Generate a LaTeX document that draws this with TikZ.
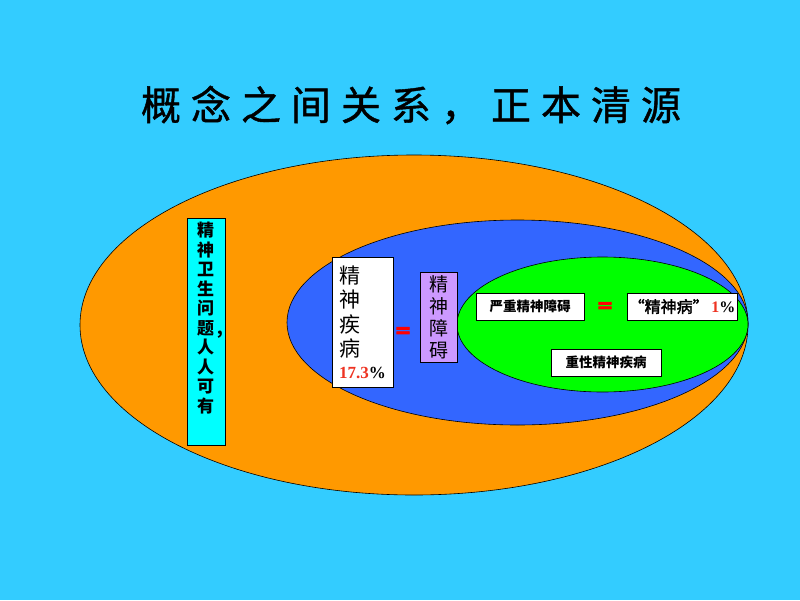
\documentclass[tikz,border=0pt]{standalone}
\usepackage{fontspec}
\setmainfont{Liberation Serif}
\newfontfamily\cjk{Noto Sans CJK SC}
\newfontfamily\cjkm[FakeBold=2.2]{Noto Sans CJK SC}
\newfontfamily\cjkt[LetterSpace=25,FakeBold=1]{Noto Sans CJK SC}
\newfontfamily\tnr{Liberation Serif}
\newfontfamily\eqfont[FakeBold=3]{DejaVu Sans}
\definecolor{bgblue}{HTML}{33CCFF}
\definecolor{orangefill}{HTML}{FF9900}
\definecolor{bluefill}{HTML}{3366FF}
\definecolor{greenfill}{HTML}{00FF00}
\definecolor{cyanfill}{HTML}{00FFFF}
\definecolor{purplefill}{HTML}{CC99FF}
\definecolor{numred}{HTML}{EE3322}
\definecolor{eqred}{HTML}{FF0000}
\tikzset{
  region/.style={draw=black, line width=0.6pt},
  labelbox/.style={draw=black, line width=0.8pt, inner sep=0pt, align=center},
  smallbox/.style={labelbox, fill=white, minimum height=27pt,
    font=\cjk\bfseries\fontsize{13.5}{15}\selectfont},
  eqsign/.style={text=eqred, inner sep=0pt, font=\eqfont\bfseries\fontsize{20}{20}\selectfont}
}
\begin{document}
\begin{tikzpicture}[x=1pt,y=-1pt]
\fill[bgblue] (0,0) rectangle (800,600);
\useasboundingbox (0,0) rectangle (800,600);

\node (title) at (411,105) {\cjkt\fontsize{40}{44}\selectfont 概念之间关系，正本清源};

\draw[region, fill=orangefill] (414,325) ellipse [x radius=334pt, y radius=170pt];
\draw[region, fill=bluefill] (517.5,322.5) ellipse [x radius=230.5pt, y radius=102.5pt];
\draw[region, fill=greenfill] (602.5,324.5) ellipse [x radius=145.5pt, y radius=67.5pt];

\node[labelbox, fill=cyanfill, minimum width=38pt, minimum height=227pt] (health) at (206,331.5) {};
\node[anchor=north, inner sep=0pt, align=center,
  font=\cjk\bfseries\fontsize{17}{19.5}\selectfont] (healthtext) at (205.5,222)
  {精\\神\\卫\\生\\问\\题\rlap{\,,}\\人\\人\\可\\有};

\node[labelbox, fill=white, minimum width=61pt, minimum height=130pt,
  align=left, font=\cjk\fontsize{21}{24.5}\selectfont] (illness) at (362.5,322)
  {精\\神\\疾\\病\\[-3pt]{\tnr\bfseries\fontsize{17}{19}\selectfont\textcolor{numred}{17.3}\%}};

\node[eqsign] (eq1) at (403,332) {=};

\node[labelbox, fill=purplefill, minimum width=37pt, minimum height=90pt,
  font=\cjk\fontsize{19}{22}\selectfont] (disorder) at (438.5,317)
  {精\\神\\障\\碍};

\node[smallbox, minimum width=108pt] (severe) at (530,306.5) {严重精神障碍};
\node[eqsign] (eq2) at (605,307) {=};
\node[smallbox, minimum width=110pt, font=\cjkm\fontsize{16}{18}\selectfont] (psychosis) at (682,306.5)
  {“精神病”\,{\tnr\bfseries\fontsize{16}{18}\selectfont\textcolor{numred}{1}\%}};
\node[smallbox, minimum width=110pt] (serious) at (606,362.5) {重性精神疾病};
\end{tikzpicture}
\end{document}
